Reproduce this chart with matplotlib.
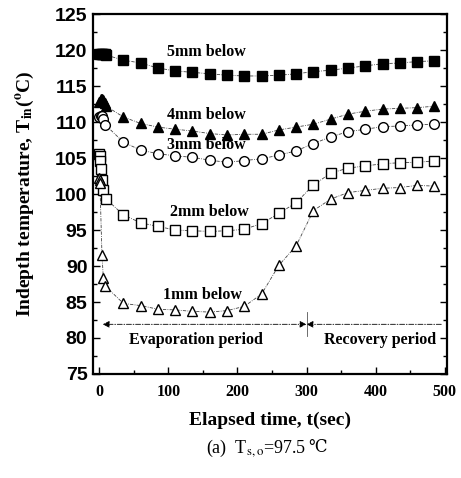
import matplotlib
matplotlib.use('Agg')
import matplotlib.pyplot as plt
import numpy as np

# elapsed time (s) of the regular samples
t_main = [35, 60, 85, 110, 135, 160, 185, 210, 235, 260, 285, 310, 335,
          360, 385, 410, 435, 460, 485]

# 5mm below (filled squares)
t_5 = [0, 2, 4, 6, 8, 10] + t_main
T_5 = [119.5, 119.5, 119.5, 119.5, 119.4, 119.3,
       118.6, 118.2, 117.5, 117.1, 116.9, 116.7, 116.5, 116.4, 116.4, 116.5,
       116.7, 117.0, 117.2, 117.5, 117.8, 118.1, 118.2, 118.4, 118.5]

# 4mm below (filled triangles)
t_4 = [0, 2, 4, 6, 8, 10] + t_main
T_4 = [112.8, 113.2, 113.2, 113.0, 112.6, 112.2,
       110.7, 109.8, 109.3, 109.0, 108.75, 108.4, 108.2, 108.3, 108.3, 108.9,
       109.3, 109.7, 110.4, 111.1, 111.5, 111.8, 111.9, 112.0, 112.2]

# 3mm below (open circles)
t_3 = [0, 2, 4, 6, 9] + t_main
T_3 = [110.7, 110.9, 110.8, 110.4, 109.6,
       107.2, 106.1, 105.6, 105.3, 105.1, 104.7, 104.4, 104.65, 104.9, 105.4,
       106.0, 107.0, 107.95, 108.65, 109.0, 109.35, 109.45, 109.6, 109.7]

# 2mm below (open squares)
t_2 = [0, 0.5, 1, 2, 4, 6, 10] + t_main
T_2 = [105.6, 105.3, 104.6, 103.5, 101.9, 100.6, 99.3,
       97.1, 96.0, 95.5, 95.0, 94.9, 94.8, 94.9, 95.1, 95.9, 97.3,
       98.8, 101.25, 102.9, 103.6, 103.9, 104.2, 104.35, 104.4, 104.6]

# 1mm below (open triangles)
t_1 = [0, 0.5, 1, 4, 6, 9] + t_main
T_1 = [102.2, 101.9, 101.6, 91.5, 88.3, 87.2,
       84.8, 84.5, 84.0, 83.9, 83.7, 83.6, 83.8, 84.4, 86.1, 90.1,
       92.8, 97.7, 99.3, 100.2, 100.5, 100.8, 100.9, 101.2, 101.1]

series = [
    (t_5, T_5, 's', 'black', '5mm below', 155, 119.7),
    (t_4, T_4, '^', 'black', '4mm below', 155, 111.0),
    (t_3, T_3, 'o', 'white', '3mm below', 155, 106.8),
    (t_2, T_2, 's', 'white', '2mm below', 160, 97.5),
    (t_1, T_1, '^', 'white', '1mm below', 150, 86.0),
]

plt.rcParams['mathtext.fontset'] = 'stix'
serif = ['Liberation Serif', 'DejaVu Serif']

fig = plt.figure(figsize=(4.61, 4.78), dpi=100)
ax = fig.add_axes([0.2017, 0.2176, 0.769, 0.753])

for t, T, mk, fc, name, lx, ly in series:
    ax.plot(t, T, color='#444444', lw=0.6, ls=(0, (4, 1.5, 1, 1.5)), zorder=2)
    ax.plot(t, T, ls='none', marker=mk, ms=6.5 if mk != 'o' else 7,
            mfc=fc, mec='black', mew=1.0, zorder=3)
    ax.text(lx, ly, name, ha='center', va='center', fontsize=11.5,
            fontweight='bold', family=serif)

# period arrows
ax.annotate('', xy=(5, 81.9), xytext=(300, 81.9),
            arrowprops=dict(arrowstyle='<|-|>', color='black', lw=0.6,
                            ls=(0, (6, 2, 1, 2)), mutation_scale=10,
                            shrinkA=0, shrinkB=0))
ax.annotate('', xy=(300, 81.9), xytext=(495, 81.9),
            arrowprops=dict(arrowstyle='-|>', color='black', lw=0.6,
                            ls=(0, (6, 2, 1, 2)), mutation_scale=10,
                            shrinkA=0, shrinkB=0))
ax.plot([300, 300], [80.3, 83.6], color='#555555', lw=0.6)
ax.text(140, 79.7, 'Evaporation period', ha='center', va='center',
        fontsize=11.5, fontweight='bold', family=serif)
ax.text(406, 79.7, 'Recovery period', ha='center', va='center',
        fontsize=11.5, fontweight='bold', family=serif)

ax.set_xlim(-9, 504)
ax.set_ylim(75, 125)
ax.set_xticks([0, 100, 200, 300, 400, 500])
ax.set_yticks(np.arange(75, 126, 5))
ax.set_xticks([50, 150, 250, 350, 450], minor=True)
ax.set_yticks(np.arange(77.5, 125, 5), minor=True)
ax.tick_params(which='both', direction='in', top=False, right=True, width=1.0)
ax.tick_params(which='major', length=5)
ax.tick_params(which='minor', length=3)
ax.tick_params(axis='x', pad=7)
ax.tick_params(axis='y', pad=4)
for lab in ax.get_xticklabels():
    lab.set_family(serif)
    lab.set_fontweight('bold')
    lab.set_fontsize(11.5)
for lab in ax.get_yticklabels():
    lab.set_family(['Liberation Sans', 'DejaVu Sans'])
    lab.set_fontweight('bold')
    lab.set_fontsize(14)
for sp in ax.spines.values():
    sp.set_linewidth(1.6)

fig.text(0.5857, 0.121, 'Elapsed time, t(sec)', ha='center', va='center',
         fontsize=14, fontweight='bold', family=serif)
fig.text(0.055, 0.594, r'Indepth temperature, T$_{\mathbf{in}}$($^{\mathbf{o}}$C)',
         ha='center', va='center', rotation=90, fontsize=14,
         fontweight='bold', family=serif)

# caption, with the degree-Celsius sign drawn in a font that has it
cap = fig.text(0.555, 0.063, '(a)  T$_{\\mathrm{s,o}}$=97.5', ha='center',
               va='center', fontsize=13, family=serif)
r = fig.canvas.get_renderer()
bb = cap.get_window_extent(renderer=r)
fig.text((bb.x1 + 2) / fig.bbox.width, 0.063, '\u2103', ha='left',
         va='center', fontsize=12, family=['DejaVu Serif'])

fig.savefig('out.png', dpi=100)
